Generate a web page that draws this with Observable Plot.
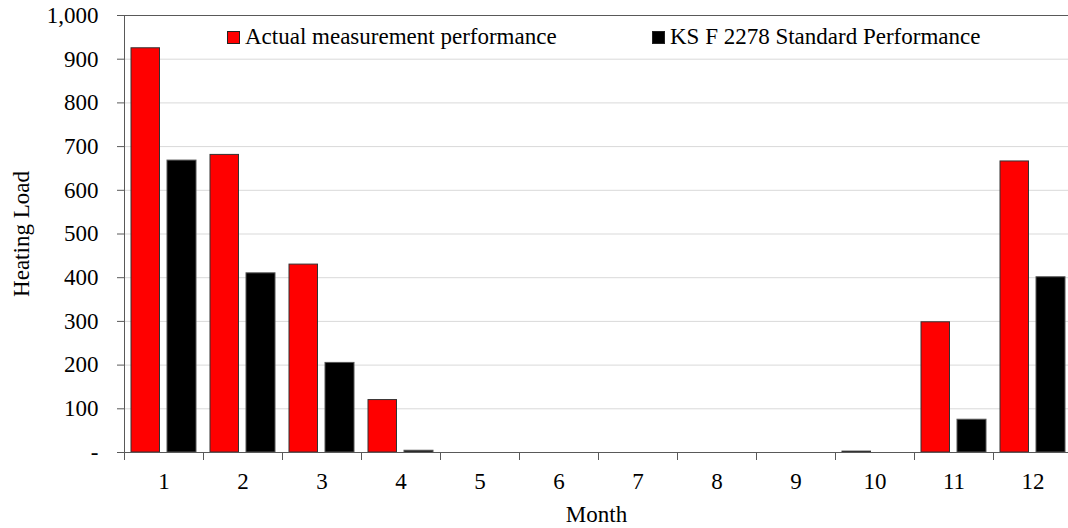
<!DOCTYPE html>
<html>
<head>
<meta charset="utf-8">
<script src="https://cdn.jsdelivr.net/npm/d3@7"></script>
<script src="https://cdn.jsdelivr.net/npm/@observablehq/plot@0.6"></script>
<style>
  html, body { margin: 0; padding: 0; background: #fff; }
  #wrap { position: relative; width: 1068px; height: 528px; }
  .leg { position: absolute; top: 24px; font-family: "Liberation Serif", "Times New Roman", serif !important; font-size: 23px; color: #000; white-space: nowrap; line-height: 26px; }
  .leg .sw { display: inline-block; width: 11px; height: 11px; border: 1px solid #222; margin-right: 5px; vertical-align: 0px; }
  svg text { font-family: "Liberation Serif", "Times New Roman", serif; }
</style>
</head>
<body>
<div id="wrap"></div>
<script>
const months = [1, 2, 3, 4, 5, 6, 7, 8, 9, 10, 11, 12];
const actual = [925, 681, 430, 120, 0, 0, 0, 0, 0, 2, 298, 666];
const standard = [668, 410, 205, 4, 0, 0, 0, 0, 0, 0, 75, 401];
const yTicks = [0, 100, 200, 300, 400, 500, 600, 700, 800, 900, 1000];
const gridTicks = [100, 200, 300, 400, 500, 600, 700, 800, 900];
const seriesNames = ["Actual measurement performance", "KS F 2278 Standard Performance"];
const seriesColors = ["#ff0000", "#000000"];

const rows = months.map((m, i) => ({month: m, actual: actual[i], standard: standard[i]}));
const fmt = d3.format(",");

const chart = Plot.plot({
  width: 1068,
  height: 528,
  marginLeft: 124,
  marginRight: 0,
  marginTop: 15,
  marginBottom: 76,
  x: {type: "band", domain: months, range: [124, 1072], padding: 0},
  y: {domain: [0, 1000]},
  style: {fontFamily: "'Liberation Serif', 'Times New Roman', serif", fontSize: "23px", color: "#000", background: "#fff"},
  marks: [
    Plot.gridY(gridTicks, {stroke: "#d9d9d9", strokeOpacity: 1}),
    Plot.ruleY([1000], {stroke: "#595959"}),
    Plot.barY(rows, {x: "month", y: "actual", fill: seriesColors[0], stroke: "#333", strokeWidth: 1, insetLeft: 7, insetRight: 43.5}),
    Plot.barY(rows, {x: "month", y: "standard", fill: seriesColors[1], stroke: "#555", strokeWidth: 1, insetLeft: 43, insetRight: 7}),
    Plot.ruleY([0], {stroke: "#595959"}),
    Plot.frame({anchor: "left", stroke: "#595959"}),
    Plot.axisY({ticks: yTicks, tickSize: 7, tickPadding: 19, stroke: "#595959", fill: "#000",
      tickFormat: d => d === 0 ? "-" : fmt(d),
      label: "Heating Load", labelAnchor: "center", labelArrow: "none", labelOffset: 112}),
    Plot.axisX({tickSize: 8, dx: -39.5, stroke: "#595959", tickFormat: () => "", label: null}),
    Plot.axisX({tickSize: 0, tickPadding: 20, fill: "#000",
      label: "Month", labelAnchor: "center", labelArrow: "none", labelOffset: 69})
  ]
});

const wrap = document.getElementById("wrap");
wrap.appendChild(chart);
const legX = [227, 652];
seriesNames.forEach((name, i) => {
  const d = document.createElement("div");
  d.className = "leg";
  d.style.left = legX[i] + "px";
  const sw = document.createElement("span");
  sw.className = "sw";
  sw.style.background = seriesColors[i];
  d.appendChild(sw);
  d.appendChild(document.createTextNode(name));
  wrap.appendChild(d);
});
</script>
</body>
</html>
